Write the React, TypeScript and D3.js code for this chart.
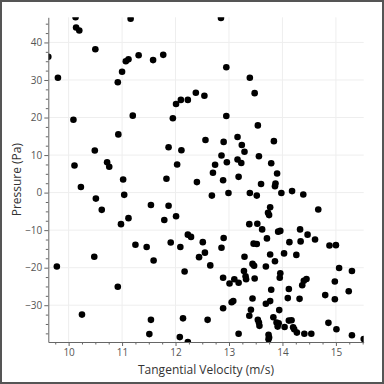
import React, { useEffect, useRef } from "react";
import * as d3 from "d3";

// tangential velocity (m/s) for each sample
const velocity = [
  10.13, 10.14, 10.2, 9.62, 9.8, 10.5, 11.16, 10.92, 11.0, 11.07,
  11.12, 11.31, 11.58, 11.77, 10.09, 11.2, 10.93, 10.49, 10.11, 10.72,
  10.76, 10.23, 11.02, 11.87, 12.11, 12.03, 11.83, 11.95, 12.01, 12.1,
  12.23, 12.38, 12.54, 12.85, 12.95, 13.39, 13.48, 12.95, 13.54, 12.56,
  12.9, 13.16, 13.24, 13.29, 13.84, 12.86, 13.56, 12.74, 12.96, 13.16,
  13.23, 13.79, 12.7, 13.9, 12.4, 12.89, 13.18, 13.6, 13.87, 13.86,
  12.68, 12.99, 13.39, 13.52, 13.98, 14.18, 14.39, 13.77, 13.73, 13.75,
  14.67, 13.38, 13.53, 13.62, 13.92, 13.96, 14.33, 14.47, 12.23, 12.29,
  12.51, 12.9, 12.55, 12.86, 13.46, 13.52, 13.71, 14.13, 14.34, 14.61,
  14.88, 15.0, 12.44, 12.65, 13.29, 13.44, 13.47, 13.69, 13.77, 13.86,
  14.03, 14.26, 15.06, 15.3, 11.25, 11.46, 11.91, 12.09, 10.48, 11.59,
  9.78, 12.17, 10.92, 10.25, 11.54, 12.14, 11.51, 12.08, 12.23, 10.51,
  11.04, 10.62, 11.54, 11.87, 12.01, 11.12, 11.79, 10.98, 12.89, 13.01,
  13.1, 13.18, 13.28, 13.31, 13.32, 13.48, 13.96, 13.95, 14.12, 14.37,
  14.4, 14.45, 13.79, 14.98, 15.24, 14.8, 14.98, 14.1, 14.32, 13.44,
  13.05, 13.08, 13.69, 13.77, 13.94, 12.89, 13.41, 13.38, 12.6, 13.54,
  13.56, 13.57, 13.83, 13.89, 13.93, 13.91, 14.04, 14.12, 14.17, 14.2,
  14.22, 14.27, 14.41, 14.54, 14.86, 15.01, 13.18, 13.74, 13.75, 13.74,
  15.3, 15.52,
];

// pressure (Pa), same order as velocity
const pressure = [
  46.7, 44.0, 43.2, 36.2, 30.6, 38.2, 46.3, 29.4, 32.2, 35.0,
  35.5, 36.6, 35.3, 36.7, 19.4, 20.5, 15.5, 11.2, 7.2, 8.1,
  6.9, 1.5, 3.5, 12.1, 11.3, 7.5, 3.7, 19.8, 23.6, 24.7,
  24.7, 26.6, 25.8, 46.5, 33.4, 30.6, 26.5, 20.4, 17.9, 14.0,
  13.5, 14.8, 12.7, 10.9, 13.7, 9.9, 9.7, 7.4, 8.1, 8.8,
  7.9, 7.8, 5.3, 5.1, 2.8, 3.3, 4.2, 2.3, 2.4, 1.7,
  -0.8, -0.1, -0.1, -0.8, -0.1, 0.4, -0.5, -3.9, -5.4, -6.0,
  -4.5, -8.4, -8.3, -9.8, -10.4, -10.2, -9.8, -11.2, -11.2, -11.8,
  -13.2, -12.1, -16.0, -14.7, -13.6, -13.7, -12.2, -13.2, -13.0, -12.5,
  -14.1, -14.0, -17.2, -19.4, -17.1, -19.0, -19.5, -19.7, -16.5, -18.3,
  -16.2, -16.6, -20.1, -20.9, -13.9, -14.5, -13.3, -14.5, -17.1, -18.1,
  -19.7, -21.0, -25.1, -32.5, -33.9, -33.5, -37.7, -38.5, -39.8, -1.6,
  -0.6, -4.6, -3.3, -3.5, -6.3, -6.8, -7.3, -8.4, -22.7, -24.2,
  -23.1, -24.0, -20.9, -22.3, -23.1, -22.9, -21.5, -22.7, -25.7, -24.7,
  -23.5, -23.0, -25.9, -23.7, -26.3, -27.3, -28.4, -28.1, -28.3, -28.2,
  -29.2, -28.9, -29.6, -28.9, -31.3, -30.8, -31.2, -32.8, -33.9, -33.9,
  -34.6, -35.5, -33.2, -34.6, -34.8, -35.7, -35.8, -34.1, -34.0, -35.9,
  -36.4, -37.3, -37.6, -37.6, -34.7, -36.4, -37.6, -37.9, -38.6, -39.1,
  -38.0, -39.0,
];

const xTicks = [10, 11, 12, 13, 14, 15];
const yTicks = [-30, -20, -10, 0, 10, 20, 30, 40];

const App = () => {
  const svgRef = useRef<SVGSVGElement>(null);

  useEffect(() => {
    const width = 384;
    const height = 384;
    const margin = { top: 17.3, right: 20.3, bottom: 42, left: 48.3 };
    const font = "'Open Sans', sans-serif";

    const svg = d3.select(svgRef.current);
    svg.selectAll("*").remove();
    svg.attr("width", width).attr("height", height);

    // outer frame
    svg.append("rect")
      .attr("x", 1).attr("y", 1)
      .attr("width", width - 2).attr("height", height - 2)
      .attr("fill", "#fff")
      .attr("stroke", "#555")
      .attr("stroke-width", 2);

    const x = d3.scaleLinear()
      .domain(d3.extent(velocity) as [number, number])
      .range([margin.left, width - margin.right]);
    const y = d3.scaleLinear()
      .domain(d3.extent(pressure) as [number, number])
      .range([height - margin.bottom, margin.top]);

    const [x0, x1] = x.range();
    const [y0, y1] = y.range();

    // grid
    const grid = svg.append("g").attr("stroke", "#eeeeee").attr("stroke-width", 1);
    grid.selectAll(".gx").data(xTicks).enter().append("line")
      .attr("x1", d => x(d)).attr("x2", d => x(d))
      .attr("y1", y1).attr("y2", y0);
    grid.selectAll(".gy").data(yTicks).enter().append("line")
      .attr("x1", x0).attr("x2", x1)
      .attr("y1", d => y(d)).attr("y2", d => y(d));

    // points, clipped to the plot area
    svg.append("clipPath").attr("id", "plot-clip")
      .append("rect")
      .attr("x", x0).attr("y", y1)
      .attr("width", x1 - x0).attr("height", y0 - y1);

    svg.append("g")
      .attr("clip-path", "url(#plot-clip)")
      .selectAll("circle")
      .data(velocity.map((v, i) => [v, pressure[i]]))
      .enter()
      .append("circle")
      .attr("cx", d => x(d[0]))
      .attr("cy", d => y(d[1]))
      .attr("r", 3.3)
      .attr("fill", "#000");

    // minor ticks
    const xMinor = d3.range(9.75, 15.6, 0.25).filter(v => Math.abs(v - Math.round(v)) > 1e-6);
    const yMinor = d3.range(-37.5, 46, 2.5).filter(v => Math.abs(v / 10 - Math.round(v / 10)) > 1e-6);

    const axisColor = "#666";
    const fmt = d3.format("d");

    const gxMinor = svg.append("g")
      .attr("transform", `translate(0,${y0})`)
      .call(d3.axisBottom(x).tickValues(xMinor).tickSize(2.5).tickFormat(() => ""));
    gxMinor.select(".domain").remove();

    const gyMinor = svg.append("g")
      .attr("transform", `translate(${x0},0)`)
      .call(d3.axisLeft(y).tickValues(yMinor).tickSize(2.5).tickFormat(() => ""));
    gyMinor.select(".domain").remove();

    const gx = svg.append("g")
      .attr("transform", `translate(0,${y0})`)
      .call(d3.axisBottom(x).tickValues(xTicks).tickFormat(d => fmt(d as number))
        .tickSize(4).tickSizeOuter(0).tickPadding(2.5));

    const gy = svg.append("g")
      .attr("transform", `translate(${x0},0)`)
      .call(d3.axisLeft(y).tickValues(yTicks).tickFormat(d => fmt(d as number))
        .tickSize(4).tickSizeOuter(0).tickPadding(2));

    [gx, gy, gxMinor, gyMinor].forEach(g => {
      g.selectAll("line").attr("stroke", axisColor);
      g.selectAll(".domain").attr("stroke", axisColor);
      g.selectAll("text")
        .attr("fill", "#555")
        .style("font-family", font)
        .style("font-size", "10px");
    });

    // axis titles
    svg.append("text")
      .attr("x", (x0 + x1) / 2)
      .attr("y", 374)
      .attr("text-anchor", "middle")
      .attr("fill", "#333")
      .style("font-family", font)
      .style("font-size", "12px")
      .text("Tangential Velocity (m/s)");

    svg.append("text")
      .attr("transform", `translate(21,${(y0 + y1) / 2}) rotate(-90)`)
      .attr("text-anchor", "middle")
      .attr("fill", "#333")
      .style("font-family", font)
      .style("font-size", "12px")
      .text("Pressure (Pa)");
  }, []);

  return (
    <div style={{ position: "absolute", left: 0, top: 0, width: 384, height: 384 }}>
      <svg ref={svgRef}></svg>
    </div>
  );
};

export default App;
